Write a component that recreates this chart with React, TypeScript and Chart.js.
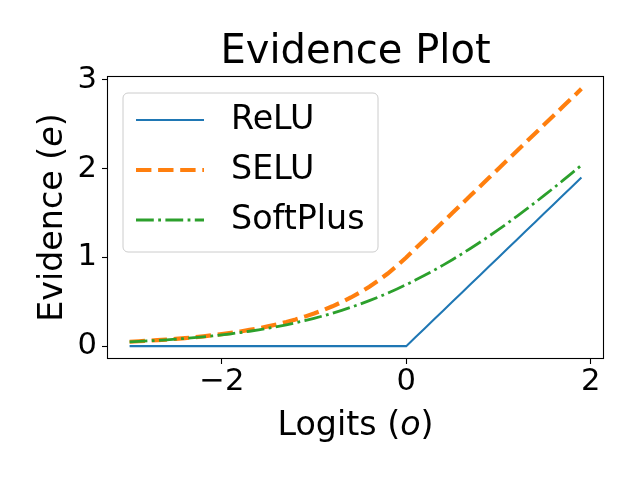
import React, { useEffect, useRef } from "react";
import { Chart, registerables } from "chart.js";

Chart.register(...registerables);

const logits = [
  -3.0, -2.9, -2.8, -2.7, -2.6, -2.5, -2.4, -2.3, -2.2, -2.1,
  -2.0, -1.9, -1.8, -1.7, -1.6, -1.5, -1.4, -1.3, -1.2, -1.1,
  -1.0, -0.9, -0.8, -0.7, -0.6, -0.5, -0.4, -0.3, -0.2, -0.1,
  0.0, 0.1, 0.2, 0.3, 0.4, 0.5, 0.6, 0.7, 0.8, 0.9,
  1.0, 1.1, 1.2, 1.3, 1.4, 1.5, 1.6, 1.7, 1.8, 1.9,
];

const relu = [
  0, 0, 0, 0, 0, 0, 0, 0, 0, 0,
  0, 0, 0, 0, 0, 0, 0, 0, 0, 0,
  0, 0, 0, 0, 0, 0, 0, 0, 0, 0,
  0, 0.1, 0.2, 0.3, 0.4, 0.5, 0.6, 0.7, 0.8, 0.9,
  1.0, 1.1, 1.2, 1.3, 1.4, 1.5, 1.6, 1.7, 1.8, 1.9,
];

const selu = [
  0.0498, 0.055, 0.0608, 0.0672, 0.0743, 0.0821, 0.0907, 0.1003, 0.1108, 0.1225,
  0.1353, 0.1496, 0.1653, 0.1827, 0.2019, 0.2231, 0.2466, 0.2725, 0.3012, 0.3329,
  0.3679, 0.4066, 0.4493, 0.4966, 0.5488, 0.6065, 0.6703, 0.7408, 0.8187, 0.9048,
  1.0, 1.1, 1.2, 1.3, 1.4, 1.5, 1.6, 1.7, 1.8, 1.9,
  2.0, 2.1, 2.2, 2.3, 2.4, 2.5, 2.6, 2.7, 2.8, 2.9,
];

const softplus = [
  0.0486, 0.0535, 0.059, 0.065, 0.0716, 0.0789, 0.0868, 0.0956, 0.1051, 0.1156,
  0.1269, 0.1394, 0.1532, 0.1678, 0.1839, 0.2014, 0.2204, 0.2409, 0.2633, 0.2873,
  0.3133, 0.3412, 0.3711, 0.4032, 0.4375, 0.4741, 0.513, 0.5544, 0.5981, 0.6444,
  0.6931, 0.7444, 0.7981, 0.8544, 0.913, 0.9741, 1.0375, 1.1032, 1.1711, 1.2412,
  1.3133, 1.3873, 1.4633, 1.541, 1.6204, 1.7014, 1.7839, 1.868, 1.9532, 2.0393,
];

const seriesNames = ["ReLU", "SELU", "SoftPlus"];
const xTicks = [-2, 0, 2];
const yTicks = [0, 1, 2, 3];
const titleText = "Evidence Plot";
const xLabelParts = [
  { text: "Logits (", italic: false },
  { text: "o", italic: true },
  { text: ")", italic: false },
];
const yLabelParts = [
  { text: "Evidence (", italic: false },
  { text: "e", italic: true },
  { text: ")", italic: false },
];

const FAMILY = "'DejaVu Sans', sans-serif";
const LABEL_SIZE = 33.3;
const TICK_SIZE = 30.6;
const LEGEND_SIZE = 33.3;

function fmtTick(v: number) {
  return v < 0 ? "\u2212" + Math.abs(v) : String(v);
}

function drawParts(ctx: CanvasRenderingContext2D, parts: { text: string; italic: boolean }[], cx: number, baseline: number) {
  const fonts = parts.map((p) => `${p.italic ? "italic " : ""}${LABEL_SIZE}px ${FAMILY}`);
  const widths = parts.map((p, i) => {
    ctx.font = fonts[i];
    return ctx.measureText(p.text).width;
  });
  const total = widths.reduce((a, b) => a + b, 0);
  let x = cx - total / 2;
  ctx.textAlign = "left";
  ctx.textBaseline = "alphabetic";
  parts.forEach((p, i) => {
    ctx.font = fonts[i];
    ctx.fillText(p.text, x, baseline);
    x += widths[i];
  });
}

const decorPlugin = {
  id: "decor",
  afterDraw(chart: any) {
    const ctx: CanvasRenderingContext2D = chart.ctx;
    const a = chart.chartArea;
    ctx.save();
    // frame (spines)
    ctx.strokeStyle = "#000";
    ctx.lineWidth = 1.1;
    ctx.strokeRect(a.left + 0.5, a.top + 0.5, a.right - a.left - 1, a.bottom - a.top - 1);

    // axis labels
    ctx.fillStyle = "#000";
    drawParts(ctx, xLabelParts, (a.left + a.right) / 2, a.bottom + 76);
    ctx.save();
    ctx.translate(a.left - 45, (a.top + a.bottom) / 2);
    ctx.rotate(-Math.PI / 2);
    drawParts(ctx, yLabelParts, 0, 0);
    ctx.restore();

    // legend
    const lx = a.left + 16;
    const ly = a.top + 17;
    const lw = 255;
    const lh = 159;
    const r = 5;
    ctx.beginPath();
    ctx.moveTo(lx + r, ly);
    ctx.lineTo(lx + lw - r, ly);
    ctx.arcTo(lx + lw, ly, lx + lw, ly + r, r);
    ctx.lineTo(lx + lw, ly + lh - r);
    ctx.arcTo(lx + lw, ly + lh, lx + lw - r, ly + lh, r);
    ctx.lineTo(lx + r, ly + lh);
    ctx.arcTo(lx, ly + lh, lx, ly + lh - r, r);
    ctx.lineTo(lx, ly + r);
    ctx.arcTo(lx, ly, lx + r, ly, r);
    ctx.closePath();
    ctx.fillStyle = "rgba(255,255,255,0.8)";
    ctx.fill();
    ctx.strokeStyle = "#cccccc";
    ctx.lineWidth = 1;
    ctx.stroke();

    const datasets = chart.data.datasets;
    datasets.forEach((ds: any, i: number) => {
      const y = ly + 27 + i * 50;
      ctx.beginPath();
      ctx.strokeStyle = ds.borderColor;
      ctx.lineWidth = ds.borderWidth;
      ctx.setLineDash(ds.borderDash || []);
      ctx.lineCap = "butt";
      ctx.moveTo(lx + 13, y);
      ctx.lineTo(lx + 81, y);
      ctx.stroke();
      ctx.setLineDash([]);
      ctx.fillStyle = "#000";
      ctx.font = `${LEGEND_SIZE}px ${FAMILY}`;
      ctx.textAlign = "left";
      ctx.textBaseline = "middle";
      ctx.fillText(ds.label, lx + 108, y);
    });
    ctx.restore();
  },
};

export default function App() {
  const ref = useRef<HTMLCanvasElement | null>(null);

  useEffect(() => {
    if (!ref.current) return;
    const mk = (vals: number[]) => logits.map((x, i) => ({ x, y: vals[i] }));
    const chart = new Chart(ref.current, {
      type: "line",
      data: {
        datasets: [
          {
            label: seriesNames[0],
            data: mk(relu),
            borderColor: "#1f77b4",
            borderWidth: 2.08,
            pointRadius: 0,
            order: 2,
          },
          {
            label: seriesNames[1],
            data: mk(selu),
            borderColor: "#ff7f0e",
            borderWidth: 4.17,
            borderDash: [15.4, 6.7],
            pointRadius: 0,
            order: 1,
          },
          {
            label: seriesNames[2],
            data: mk(softplus),
            borderColor: "#2ca02c",
            borderWidth: 2.78,
            borderDash: [17.8, 4.4, 2.8, 4.4],
            pointRadius: 0,
            order: 0,
          },
        ],
      },
      options: {
        responsive: false,
        animation: false,
        devicePixelRatio: 1,
        layout: { padding: { left: 0, right: 36, top: 0, bottom: 0 } },
        plugins: {
          legend: { display: false },
          tooltip: { enabled: false },
          title: {
            display: true,
            text: titleText,
            fullSize: false,
            position: "top",
            color: "#000",
            font: { family: FAMILY, size: 40, weight: "normal", lineHeight: 1.15 },
            padding: { top: 30, bottom: 0 },
          },
        },
        scales: {
          x: {
            type: "linear",
            min: -3.245,
            max: 2.145,
            afterBuildTicks: (s: any) => {
              s.ticks = xTicks.map((v) => ({ value: v }));
            },
            afterFit: (s: any) => {
              s.height = 121;
            },
            ticks: {
              color: "#000",
              font: { family: FAMILY, size: TICK_SIZE, lineHeight: 1.2 },
              padding: 0,
              autoSkip: false,
              maxRotation: 0,
              callback: (v: any) => fmtTick(Number(v)),
            },
            grid: {
              drawOnChartArea: false,
              drawTicks: true,
              tickLength: 5,
              tickColor: "#000",
              tickWidth: 1.1,
            },
            border: { display: false },
          },
          y: {
            type: "linear",
            min: -0.145,
            max: 3.045,
            afterBuildTicks: (s: any) => {
              s.ticks = yTicks.map((v) => ({ value: v }));
            },
            afterFit: (s: any) => {
              s.width = 107;
            },
            ticks: {
              color: "#000",
              font: { family: FAMILY, size: TICK_SIZE, lineHeight: 1.2 },
              padding: 5,
              autoSkip: false,
              callback: (v: any) => fmtTick(Number(v)),
            },
            grid: {
              drawOnChartArea: false,
              drawTicks: true,
              tickLength: 5,
              tickColor: "#000",
              tickWidth: 1.1,
            },
            border: { display: false },
          },
        },
      },
      plugins: [decorPlugin],
    });
    return () => chart.destroy();
  }, []);

  return (
    <div style={{ position: "fixed", left: 0, top: 0, width: 640, height: 480, background: "#fff" }}>
      <canvas ref={ref} width={640} height={480} style={{ display: "block", width: 640, height: 480 }} />
    </div>
  );
}
